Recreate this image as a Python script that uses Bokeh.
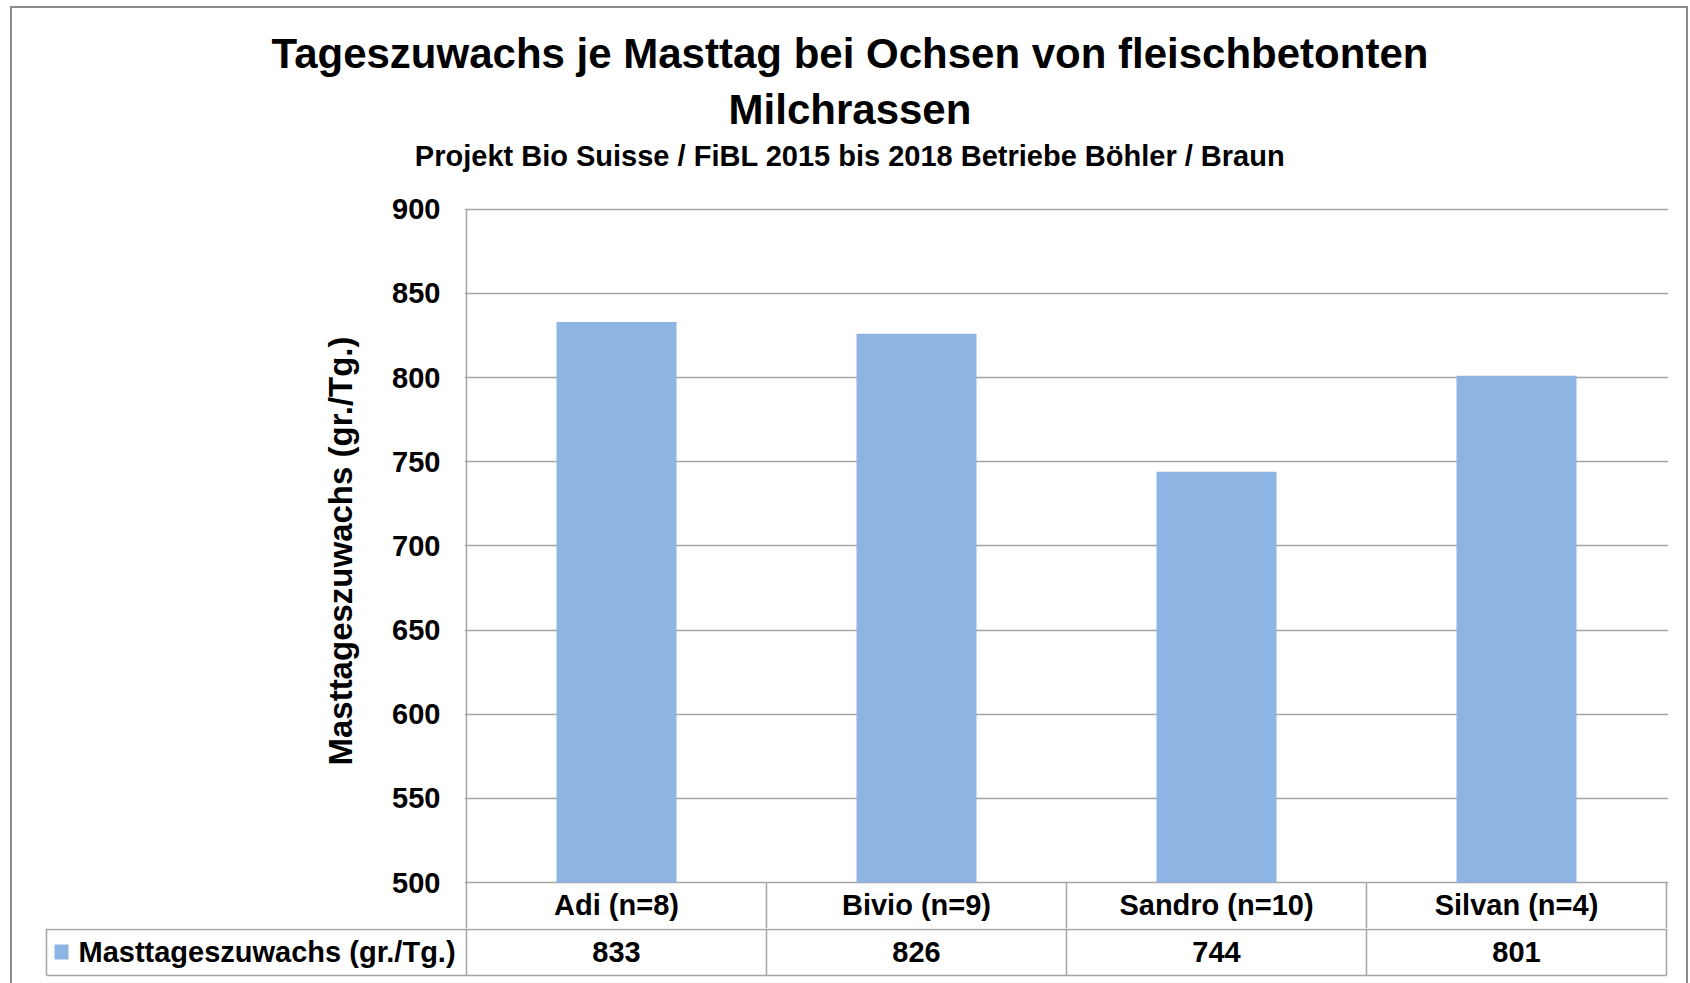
from bokeh.plotting import figure
from bokeh.layouts import column
from bokeh.models import Range1d, FixedTicker
from bokeh.core.properties import value
from bokeh.embed import file_html
from bokeh.resources import INLINE

# ---------------- data ----------------
title_lines = ["Tageszuwachs je Masttag bei Ochsen von fleischbetonten", "Milchrassen"]
subtitle = "Projekt Bio Suisse / FiBL 2015 bis 2018 Betriebe Böhler / Braun"
categories = ["Adi (n=8)", "Bivio (n=9)", "Sandro (n=10)", "Silvan (n=4)"]
series_name = "Masttageszuwachs (gr./Tg.)"
values = [833, 826, 744, 801]
y_ticks = [500, 550, 600, 650, 700, 750, 800, 850, 900]
y_label = "Masttageszuwachs (gr./Tg.)"

# ---------------- layout constants (page px) ----------------
X0, X1 = 12, 1686            # inner area (inside the grey border)
Y0 = 8
TITLE_B = 173                # title block bottom / chart top
CH_B = 928                   # chart bottom / table top
PAGE_B = 983
PLOT_L, PLOT_R = 466, 1666   # category columns
FR_L, FR_R = 464, 1668       # chart frame
Y900, Y500 = 208.7, 882.0
ROW1_B, ROW2_B = 929, 975
ROW1_C, ROW2_C = 904.5, 951.5
TABLE_L = 46

BAR_COLOR = "#8EB4E3"
LINE = "#a5a5a5"
BORDER = "#8b8b8b"
FONT = "Liberation Sans"
BODY_SIZE = "29px"

W = X1 - X0
n = len(categories)
centers = [i + 0.5 for i in range(n)]
col_w = (PLOT_R - PLOT_L) / n
ppu = (Y500 - Y900) / (y_ticks[-1] - y_ticks[0])


def u(px):          # page x -> column units
    return (px - PLOT_L) / col_w


def yv(py):         # page y -> value units
    return y_ticks[0] + (Y500 - py) / ppu


def make(height, x_range, y_range, **kw):
    f = figure(width=W, height=height, x_range=x_range, y_range=y_range,
               x_axis_location=None, title=None, output_backend="svg",
               toolbar_location=None, **kw)
    f.outline_line_color = None
    f.background_fill_color = "white"
    f.border_fill_color = "white"
    f.grid.visible = False
    if "frame_align" in f.properties():
        f.frame_align = False
    return f


# ---------------- title block ----------------
tf = make(TITLE_B - Y0, Range1d(X0, X1), Range1d(TITLE_B, Y0), y_axis_location=None,
          min_border_left=0, min_border_right=0, min_border_top=0, min_border_bottom=0)
cx = 849.5
tf.text(x=[cx, cx], y=[52.7, 108.5], text=title_lines, text_align="center",
        text_baseline="middle", text_font=value(FONT), text_font_style="bold",
        text_font_size="42px", text_color="black")
tf.text(x=[cx], y=[155], text=[subtitle], text_align="center", text_baseline="middle",
        text_font=value(FONT), text_font_style="bold", text_font_size="29px", text_color="black")

# ---------------- chart (with category row of the table) ----------------
cf = make(CH_B - TITLE_B, Range1d(u(FR_L), u(FR_R)), Range1d(yv(CH_B), yv(TITLE_B)),
          min_border_left=FR_L - X0, min_border_right=X1 - FR_R,
          min_border_top=0, min_border_bottom=0)
cf.ygrid.visible = True
cf.ygrid.ticker = FixedTicker(ticks=y_ticks)
cf.ygrid.grid_line_color = LINE
cf.ygrid.grid_line_width = 1.5

cf.vbar(x=centers, top=values, bottom=y_ticks[0], width=0.4,
        fill_color=BAR_COLOR, line_color=None)

# left edge of plot + column separators of category row
cf.segment(x0=[0], x1=[0], y0=[y_ticks[-1]], y1=[yv(CH_B + 1)], line_color=LINE, line_width=1.5)
cf.segment(x0=list(range(1, n + 1)), x1=list(range(1, n + 1)), y0=[y_ticks[0]] * n,
           y1=[yv(CH_B + 1)] * n, line_color=LINE, line_width=1.5)
cf.text(x=centers, y=[yv(ROW1_C)] * n, text=categories, text_align="center",
        text_baseline="middle", text_font=value(FONT), text_font_style="bold",
        text_font_size=BODY_SIZE, text_color="black")

ya = cf.yaxis[0]
ya.ticker = FixedTicker(ticks=y_ticks)
ya.axis_line_color = None
ya.major_tick_line_color = None
ya.minor_tick_line_color = None
ya.major_tick_out = 0
ya.major_tick_in = 0
ya.major_label_standoff = FR_L - 440
ya.major_label_text_font = FONT
ya.major_label_text_font_style = "bold"
ya.major_label_text_font_size = BODY_SIZE
ya.major_label_text_color = "black"
ya.axis_label = y_label
ya.axis_label_text_font = FONT
ya.axis_label_text_font_style = "bold"
ya.axis_label_text_font_size = "33px"
ya.axis_label_text_color = "black"
ya.axis_label_standoff = 30

# ---------------- value row of the data table ----------------
df = make(PAGE_B - CH_B, Range1d(u(X0), u(X1)), Range1d(PAGE_B, CH_B), y_axis_location=None,
          min_border_left=0, min_border_right=0, min_border_top=0, min_border_bottom=0)
df.segment(x0=[u(TABLE_L)] * 2, x1=[n] * 2, y0=[ROW1_B, ROW2_B], y1=[ROW1_B, ROW2_B],
           line_color=LINE, line_width=1.5)
vx = [u(TABLE_L)] + list(range(n + 1))
df.segment(x0=vx, x1=vx, y0=[CH_B] * len(vx), y1=[ROW2_B] * len(vx),
           line_color=LINE, line_width=1.5)
df.text(x=centers, y=[ROW2_C] * n, text=[str(v) for v in values], text_align="center",
        text_baseline="middle", text_font=value(FONT), text_font_style="bold",
        text_font_size=BODY_SIZE, text_color="black")
df.quad(left=[u(54)], right=[u(68)], top=[944], bottom=[959], fill_color=BAR_COLOR,
        line_color=None)
df.text(x=[u(78)], y=[ROW2_C], text=[series_name], text_align="left",
        text_baseline="middle", text_font=value(FONT), text_font_style="bold",
        text_font_size=BODY_SIZE, text_color="black")

layout = column(tf, cf, df, spacing=0, margin=(6, 0, 0, 10),
                styles={"border-top": f"2px solid {BORDER}",
                        "border-left": f"2px solid {BORDER}",
                        "border-right": f"2px solid {BORDER}"})

open("out.html", "w").write(file_html(layout, INLINE))
